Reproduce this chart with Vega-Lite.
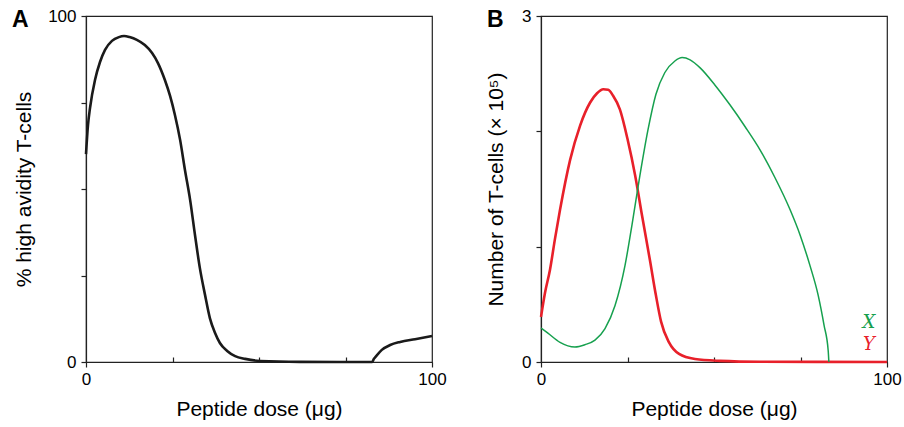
{
  "$schema": "https://vega.github.io/schema/vega-lite/v6.json",
  "background": "white",
  "padding": {"left": 11, "top": 6, "right": 0, "bottom": 0},
  "spacing": 37,
  "datasets": {
    "panelA": [
      {"dose": 0, "pct": 60.1}, {"dose": 0.58, "pct": 68.5}, {"dose": 1.16, "pct": 73.4},
      {"dose": 2.6, "pct": 81.5}, {"dose": 4.05, "pct": 86.7}, {"dose": 5.5, "pct": 90.2},
      {"dose": 7.5, "pct": 92.8}, {"dose": 9.5, "pct": 93.9}, {"dose": 11.0, "pct": 94.2},
      {"dose": 12.6, "pct": 93.9}, {"dose": 14.7, "pct": 93.1}, {"dose": 17.0, "pct": 91.6},
      {"dose": 19.1, "pct": 89.3}, {"dose": 20.8, "pct": 86.4}, {"dose": 22.8, "pct": 81.5},
      {"dose": 24.3, "pct": 76.9}, {"dose": 25.7, "pct": 71.4}, {"dose": 27.2, "pct": 64.2},
      {"dose": 28.6, "pct": 55.5}, {"dose": 30.1, "pct": 46.8}, {"dose": 31.5, "pct": 36.7},
      {"dose": 32.9, "pct": 27.2}, {"dose": 34.4, "pct": 19.4}, {"dose": 35.8, "pct": 12.7},
      {"dose": 37.3, "pct": 8.4}, {"dose": 38.7, "pct": 5.5}, {"dose": 40.8, "pct": 3.2},
      {"dose": 43.1, "pct": 1.7}, {"dose": 46.0, "pct": 0.9}, {"dose": 50.3, "pct": 0.3},
      {"dose": 61.8, "pct": 0.05}, {"dose": 82.7, "pct": 0}, {"dose": 83.2, "pct": 0.9},
      {"dose": 84.1, "pct": 2.0}, {"dose": 85.5, "pct": 3.5}, {"dose": 87.9, "pct": 4.9},
      {"dose": 90.8, "pct": 5.8}, {"dose": 95.1, "pct": 6.6}, {"dose": 100, "pct": 7.5}
    ],
    "panelB": [
      {"dose": 0, "n": 0.39, "series": "Y"}, {"dose": 1.16, "n": 0.60, "series": "Y"},
      {"dose": 2.6, "n": 0.80, "series": "Y"}, {"dose": 4.05, "n": 1.07, "series": "Y"},
      {"dose": 5.5, "n": 1.32, "series": "Y"}, {"dose": 8.4, "n": 1.75, "series": "Y"},
      {"dose": 11.3, "n": 2.05, "series": "Y"}, {"dose": 14.2, "n": 2.25, "series": "Y"},
      {"dose": 16.2, "n": 2.33, "series": "Y"}, {"dose": 18.0, "n": 2.365, "series": "Y"},
      {"dose": 19.4, "n": 2.36, "series": "Y"}, {"dose": 20.8, "n": 2.31, "series": "Y"},
      {"dose": 22.8, "n": 2.19, "series": "Y"},
      {"dose": 25.1, "n": 1.92, "series": "Y"}, {"dose": 27.2, "n": 1.62, "series": "Y"},
      {"dose": 29.2, "n": 1.27, "series": "Y"}, {"dose": 31.5, "n": 0.88, "series": "Y"},
      {"dose": 33.2, "n": 0.58, "series": "Y"}, {"dose": 34.7, "n": 0.35, "series": "Y"},
      {"dose": 37.0, "n": 0.17, "series": "Y"}, {"dose": 39.9, "n": 0.07, "series": "Y"},
      {"dose": 44.5, "n": 0.026, "series": "Y"}, {"dose": 51.7, "n": 0.01, "series": "Y"},
      {"dose": 63.3, "n": 0.002, "series": "Y"}, {"dose": 100, "n": 0, "series": "Y"},
      {"dose": 0, "n": 0.295, "series": "X"}, {"dose": 2.0, "n": 0.25, "series": "X"},
      {"dose": 5.5, "n": 0.17, "series": "X"}, {"dose": 9.8, "n": 0.13, "series": "X"},
      {"dose": 12.7, "n": 0.15, "series": "X"}, {"dose": 15.6, "n": 0.19, "series": "X"},
      {"dose": 18.5, "n": 0.29, "series": "X"}, {"dose": 21.4, "n": 0.49, "series": "X"},
      {"dose": 24.3, "n": 0.84, "series": "X"}, {"dose": 26.3, "n": 1.19, "series": "X"},
      {"dose": 28.6, "n": 1.62, "series": "X"}, {"dose": 30.9, "n": 2.01, "series": "X"},
      {"dose": 33.2, "n": 2.32, "series": "X"}, {"dose": 35.8, "n": 2.51, "series": "X"},
      {"dose": 38.7, "n": 2.61, "series": "X"}, {"dose": 40.8, "n": 2.64, "series": "X"},
      {"dose": 43.1, "n": 2.62, "series": "X"}, {"dose": 46.0, "n": 2.55, "series": "X"},
      {"dose": 50.3, "n": 2.40, "series": "X"}, {"dose": 54.6, "n": 2.23, "series": "X"},
      {"dose": 59.0, "n": 2.04, "series": "X"}, {"dose": 63.3, "n": 1.84, "series": "X"},
      {"dose": 67.6, "n": 1.60, "series": "X"}, {"dose": 72.0, "n": 1.32, "series": "X"},
      {"dose": 74.9, "n": 1.10, "series": "X"}, {"dose": 77.7, "n": 0.84, "series": "X"},
      {"dose": 80.1, "n": 0.58, "series": "X"}, {"dose": 81.8, "n": 0.32, "series": "X"},
      {"dose": 83.0, "n": 0.10, "series": "X"}, {"dose": 83.2, "n": 0, "series": "X"}
    ],
    "labelsB": [
      {"dose": 94.8, "n": 0.34, "series": "X"},
      {"dose": 94.8, "n": 0.15, "series": "Y"}
    ]
  },
  "config": {
    "font": "Liberation Sans",
    "view": {"stroke": "#222", "strokeWidth": 1.2},
    "axis": {
      "grid": false,
      "labelFlush": false,
      "domainColor": "#222",
      "domainWidth": 1.2,
      "tickColor": "#222",
      "tickWidth": 1.2,
      "labelFont": "Liberation Sans",
      "labelFontSize": 17,
      "labelColor": "#000",
      "titleFont": "Liberation Sans",
      "titleFontSize": 21,
      "titleFontWeight": "normal",
      "titleColor": "#000"
    }
  },
  "hconcat": [
    {
      "width": 346,
      "height": 346,
      "title": {"text": "A", "anchor": "start", "frame": "group", "fontSize": 23, "fontWeight": "bold", "font": "Liberation Sans", "dx": -74, "dy": 29, "color": "#000"},
      "data": {"name": "panelA"},
      "mark": {"type": "line", "color": "#1a1a1a", "strokeWidth": 2.6, "interpolate": "monotone"},
      "encoding": {
        "x": {
          "field": "dose", "type": "quantitative",
          "scale": {"domain": [0, 100], "nice": false},
          "axis": {
            "title": "Peptide dose (μg)",
            "titleFontSize": 21,
            "values": [0, 25, 50, 75, 100],
            "labelExpr": "datum.value == 0 || datum.value == 100 ? datum.label : ''",
            "tickSize": {"condition": {"test": "datum.value == 0 || datum.value == 100", "value": 5}, "value": -5},
            "labelPadding": 4,
            "titlePadding": 11
          }
        },
        "y": {
          "field": "pct", "type": "quantitative",
          "scale": {"domain": [0, 100], "nice": false},
          "axis": {
            "title": "% high avidity T-cells",
            "titleFontSize": 21,
            "values": [0, 25, 50, 75, 100],
            "labelExpr": "datum.value == 0 || datum.value == 100 ? datum.label : ''",
            "tickSize": 5,
            "labelPadding": 5,
            "titlePadding": 13
          }
        }
      }
    },
    {
      "width": 346,
      "height": 346,
      "title": {"text": "B", "anchor": "start", "frame": "group", "fontSize": 23, "fontWeight": "bold", "font": "Liberation Sans", "dx": -54, "dy": 29, "color": "#000"},
      "layer": [
        {
          "data": {"name": "panelB"},
          "mark": {"type": "line", "interpolate": "monotone"},
          "encoding": {
            "x": {
              "field": "dose", "type": "quantitative",
              "scale": {"domain": [0, 100], "nice": false},
              "axis": {
                "title": "Peptide dose (μg)",
                "titleFontSize": 21,
                "values": [0, 25, 50, 75, 100],
                "labelExpr": "datum.value == 0 || datum.value == 100 ? datum.label : ''",
                "tickSize": {"condition": {"test": "datum.value == 0 || datum.value == 100", "value": 5}, "value": -5},
                "labelPadding": 4,
                "titlePadding": 11
              }
            },
            "y": {
              "field": "n", "type": "quantitative",
              "scale": {"domain": [0, 3], "nice": false},
              "axis": {
                "title": "Number of T-cells (× 10⁵)",
                "titleFontSize": 21,
                "format": "d",
                "values": [0, 1, 2, 3],
                "labelExpr": "datum.value == 0 || datum.value == 3 ? datum.label : ''",
                "tickSize": 5,
                "labelPadding": 5,
                "titlePadding": 15
              }
            },
            "color": {
              "field": "series", "type": "nominal",
              "scale": {"domain": ["X", "Y"], "range": ["#16a04e", "#e8202a"]},
              "legend": null
            },
            "strokeWidth": {
              "field": "series", "type": "nominal",
              "scale": {"domain": ["X", "Y"], "range": [1.5, 2.6]},
              "legend": null
            }
          }
        },
        {
          "data": {"name": "labelsB"},
          "mark": {"type": "text", "font": "DejaVu Serif", "fontStyle": "italic", "fontSize": 18},
          "encoding": {
            "x": {"field": "dose", "type": "quantitative"},
            "y": {"field": "n", "type": "quantitative"},
            "text": {"field": "series"},
            "color": {"field": "series", "type": "nominal", "legend": null}
          }
        }
      ]
    }
  ]
}
